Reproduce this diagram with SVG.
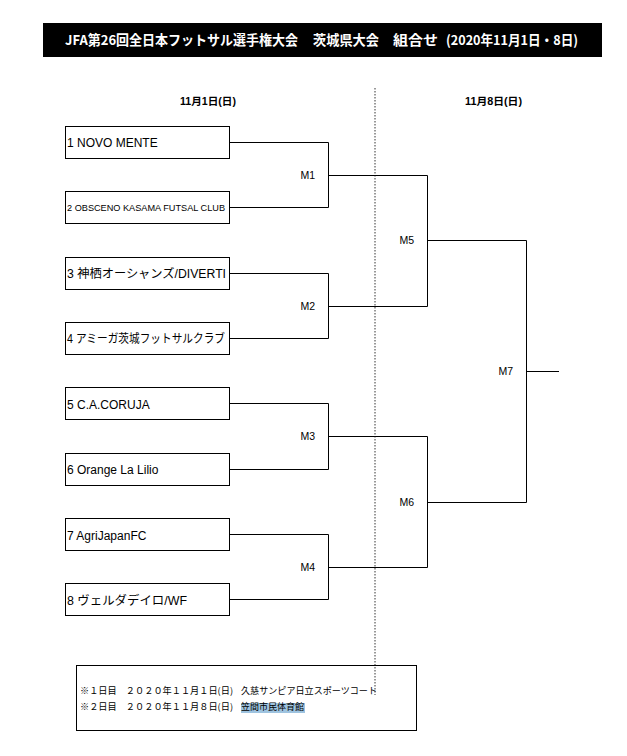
<svg xmlns="http://www.w3.org/2000/svg" width="627" height="756" viewBox="0 0 627 756">
<style>
text{font-family:"Liberation Sans","Noto Sans CJK JP",sans-serif;fill:#000}
.box{fill:#fff;stroke:#000;stroke-width:1}
.team{font-size:12px}
.ml{font-size:10.5px;text-anchor:end}
.hd{font-size:10px;font-weight:bold;text-anchor:middle}
.conn path{fill:none;stroke:#000;stroke-width:1}
.note{font-size:9px;font-family:"Noto Sans CJK JP","Liberation Sans",sans-serif}
.tt{font-size:13.5px;font-weight:bold;fill:#fff;font-family:"Noto Sans CJK JP","Liberation Sans",sans-serif}
</style>
<rect width="627" height="756" fill="#fff"/>
<g id="title">
<rect x="43" y="23" width="559" height="34" fill="#000"/>
<text class="tt" x="65" y="44.5" textLength="233" lengthAdjust="spacingAndGlyphs">JFA第26回全日本フットサル選手権大会</text>
<text class="tt" x="313" y="44.5" textLength="66" lengthAdjust="spacingAndGlyphs">茨城県大会</text>
<text class="tt" x="393" y="44.5" textLength="45" lengthAdjust="spacingAndGlyphs">組合せ</text>
<text class="tt" x="446" y="44.5" textLength="132" lengthAdjust="spacingAndGlyphs">(2020年11月1日・8日)</text>
</g>
<g id="headers">
<text class="hd" x="208" y="105" textLength="56" lengthAdjust="spacingAndGlyphs">11月1日(日)</text>
<text class="hd" x="493.5" y="105" textLength="57" lengthAdjust="spacingAndGlyphs">11月8日(日)</text>
</g>
<g id="divider">
<line x1="375" y1="88" x2="375" y2="695" stroke="#000" stroke-width="0.8" stroke-dasharray="1.5,1.5"/>
</g>
<g id="team1"><rect class="box" x="65.5" y="126.5" width="164" height="32"/><text class="team" x="67" y="147">1 NOVO MENTE</text></g>
<g id="team2"><rect class="box" x="65.5" y="191.5" width="164" height="32"/><text x="67" y="211" font-size="8.5" textLength="158" lengthAdjust="spacingAndGlyphs">2 OBSCENO KASAMA FUTSAL CLUB</text></g>
<g id="team3"><rect class="box" x="65.5" y="257.5" width="164" height="32"/><text class="team" x="67" y="278" textLength="159" lengthAdjust="spacingAndGlyphs">3 神栖オーシャンズ/DIVERTI</text></g>
<g id="team4"><rect class="box" x="65.5" y="322.5" width="164" height="32"/><text class="team" x="67" y="343" textLength="158" lengthAdjust="spacingAndGlyphs">4 アミーガ茨城フットサルクラブ</text></g>
<g id="team5"><rect class="box" x="65.5" y="387.5" width="164" height="32"/><text class="team" x="67" y="409">5 C.A.CORUJA</text></g>
<g id="team6"><rect class="box" x="65.5" y="453.5" width="164" height="32"/><text class="team" x="67" y="474">6 Orange La Lilio</text></g>
<g id="team7"><rect class="box" x="65.5" y="518.5" width="164" height="32"/><text class="team" x="67" y="540">7 AgriJapanFC</text></g>
<g id="team8"><rect class="box" x="65.5" y="583.5" width="164" height="32"/><text class="team" x="67" y="605" textLength="120" lengthAdjust="spacingAndGlyphs">8 ヴェルダデイロ/WF</text></g>
<g class="conn" id="connectors">
<path d="M230 142.5H328.5V207.5H230"/>
<path d="M230 273.5H328.5V338.5H230"/>
<path d="M230 403.5H328.5V469.5H230"/>
<path d="M230 534.5H328.5V599.5H230"/>
<path d="M328.5 175.5H427.5V306.5H328.5"/>
<path d="M328.5 436.5H427.5V567.5H328.5"/>
<path d="M427.5 240.5H526.5V502.5H427.5"/>
<path d="M526.5 371.5H559"/>
</g>
<g id="labels">
<text class="ml" x="315" y="179">M1</text>
<text class="ml" x="315" y="310">M2</text>
<text class="ml" x="315" y="440">M3</text>
<text class="ml" x="315" y="571">M4</text>
<text class="ml" x="414" y="244">M5</text>
<text class="ml" x="414" y="506">M6</text>
<text class="ml" x="513" y="375">M7</text>
</g>
<g id="notes">
<rect x="76.5" y="665.5" width="340" height="65" fill="none" stroke="#000" stroke-width="1"/>
<rect x="241" y="703" width="64" height="10" fill="#9ec3df"/>
<text class="note" x="80" y="693.5" textLength="153" lengthAdjust="spacingAndGlyphs">※１日目　２０２０年１１月１日(日)</text>
<text class="note" x="241" y="693.5" textLength="136" lengthAdjust="spacingAndGlyphs">久慈サンピア日立スポーツコート</text>
<text class="note" x="80" y="710" textLength="153" lengthAdjust="spacingAndGlyphs">※２日目　２０２０年１１月８日(日)</text>
<text class="note" x="241" y="710" textLength="63" lengthAdjust="spacingAndGlyphs">笠間市民体育館</text>
</g>
</svg>
